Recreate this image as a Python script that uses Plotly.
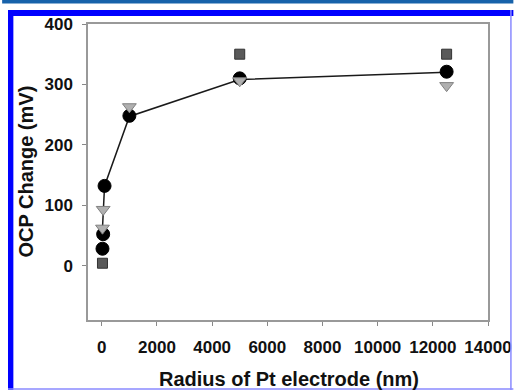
import plotly.graph_objects as go

# Data (radius in nm, OCP change in mV)
circle_x = [25, 50, 100, 1000, 5000, 12500]
circle_y = [28, 52, 132, 248, 310, 321]
tri_x = [25, 50, 1000, 5000, 12500]
tri_y = [62, 93, 263, 306, 298]
sq_x = [25, 5000, 12500]
sq_y = [4, 350, 350]
line_x = [25, 50, 100, 1000, 5000, 12500]
line_y = [62, 93, 132, 247, 308, 320]

x_ticks = [0, 2000, 4000, 6000, 8000, 10000, 12000, 14000]
y_ticks = [0, 100, 200, 300, 400]

W, H = 524, 390
L, R, T, B = 88, 498, 24, 320
FONT = "Arial, Liberation Sans, sans-serif"

def px(x):
    return (x - L) / (R - L)

def py(y):
    return (B - y) / (B - T)

fig = go.Figure()
fig.add_trace(go.Scatter(x=line_x, y=line_y, mode="lines",
                         line=dict(color="#1a1a1a", width=1.5), hoverinfo="skip"))
fig.add_trace(go.Scatter(x=sq_x, y=sq_y, mode="markers",
                         marker=dict(symbol="square", size=10, color="#5a5a5a",
                                     line=dict(color="#333333", width=1))))
fig.add_trace(go.Scatter(x=circle_x, y=circle_y, mode="markers",
                         marker=dict(symbol="circle", size=13, color="#000000",
                                     line=dict(color="#000000", width=1))))
fig.add_trace(go.Scatter(x=tri_x, y=tri_y, mode="markers",
                         marker=dict(symbol="triangle-down", size=12, color="#b0b0b0",
                                     line=dict(color="#808080", width=1))))

shapes = [
    dict(type="rect", xref="paper", yref="paper", x0=px(0), x1=px(W), y0=py(0), y1=py(3.5),
         fillcolor="#1762aa", line=dict(width=0), layer="below"),
    dict(type="rect", xref="paper", yref="paper", x0=px(6), x1=px(W), y0=py(10), y1=py(16),
         fillcolor="#0000ff", line=dict(width=0), layer="below"),
    dict(type="rect", xref="paper", yref="paper", x0=px(6), x1=px(11.5), y0=py(10), y1=py(W),
         fillcolor="#0000ff", line=dict(width=0), layer="below"),
    dict(type="line", xref="paper", yref="paper", x0=px(521.5), x1=px(521.5), y0=py(10), y1=py(390),
         line=dict(color="#8a8aff", width=1.5)),
    dict(type="line", xref="paper", yref="paper", x0=px(6), x1=px(524), y0=py(389), y1=py(389),
         line=dict(color="#8a8aff", width=1.5)),
]

annotations = [
    dict(text="<b>Radius of Pt electrode (nm)</b>", xref="paper", yref="paper",
         x=px(294), y=py(379), showarrow=False, font=dict(family=FONT, size=20, color="#111"),
         xanchor="center", yanchor="middle"),
    dict(text="<b>OCP Change (mV)</b>", xref="paper", yref="paper",
         x=px(24), y=py(172), showarrow=False, textangle=-90,
         font=dict(family=FONT, size=20, color="#111"), xanchor="center", yanchor="middle"),
]

fig.update_layout(
    width=W, height=H,
    margin=dict(l=L, r=W - R, t=T, b=H - B),
    paper_bgcolor="white", plot_bgcolor="white",
    showlegend=False,
    shapes=shapes, annotations=annotations,
    font=dict(family=FONT, color="#111"),
)
fig.update_xaxes(range=[-500, 14000], tickvals=x_ticks,
                 ticktext=[f"<b>{v}</b>" for v in x_ticks],
                 tickfont=dict(family=FONT, size=17, color="#111"),
                 ticks="outside", ticklen=4, tickcolor="#888", ticklabelstandoff=7,
                 showgrid=False, zeroline=False,
                 showline=True, linecolor="#999", linewidth=1.5, mirror=True)
fig.update_yaxes(range=[-90, 400], tickvals=y_ticks,
                 ticktext=[f"<b>{v}</b>" for v in y_ticks],
                 tickfont=dict(family=FONT, size=17, color="#111"),
                 ticks="outside", ticklen=4, tickcolor="#888", ticklabelstandoff=6,
                 showgrid=False, zeroline=False,
                 showline=True, linecolor="#999", linewidth=1.5, mirror=True)

fig.write_html("out.html")
